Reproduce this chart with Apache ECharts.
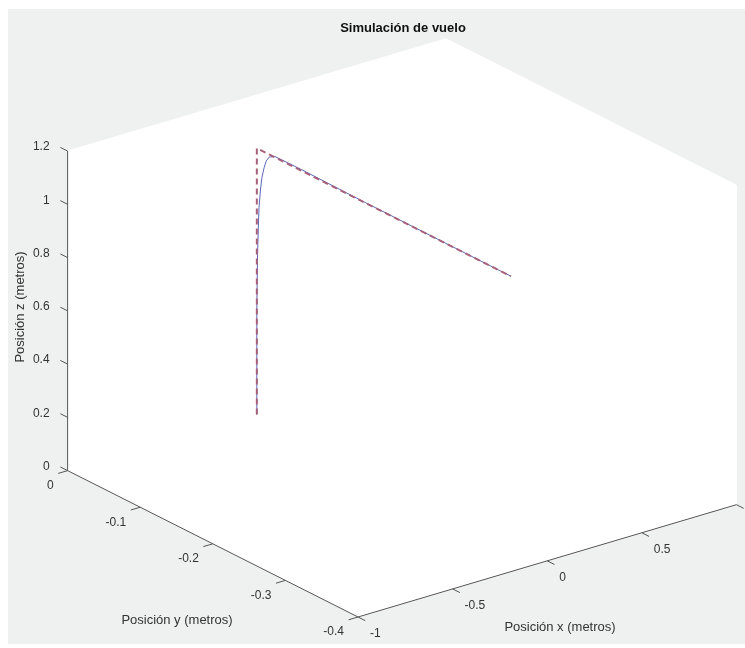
<!DOCTYPE html>
<html lang="es">
<head>
<meta charset="UTF-8">
<title>Simulación de vuelo</title>
<script src="https://cdn.jsdelivr.net/npm/echarts@6.0.0/dist/echarts.min.js"></script>
<style>html,body{margin:0;padding:0;background:#fff;}</style>
</head>
<body>
<div id="box" style="position:absolute;left:8px;top:9px;width:737px;height:635px;"></div>
<script>
// limites y marcas de los ejes
var xLim = [-1, 1], yLim = [-0.4, 0], zLim = [0, 1.2];
var xTicks = [-1, -0.5, 0, 0.5, 1];
var yTicks = [-0.4, -0.3, -0.2, -0.1, 0];
var zTicks = [0, 0.2, 0.4, 0.6, 0.8, 1, 1.2];

// trayectoria deseada (r--)
var refX = [0, 0, 0];
var refY = [0, 0, -0.35];
var refZ = [0, 1, 1];

// trayectoria simulada (b)
var simX = [0, 0, 0, 0, 0, 0, 0, 0, 0, 0, 0, 0, 0, 0, 0, 0];
var simY = [0, 0, 0, -0.0005, -0.001, -0.002, -0.003, -0.005, -0.007, -0.01, -0.013, -0.017, -0.025, -0.06, -0.15, -0.35];
var simZ = [0, 0.2, 0.4, 0.5, 0.6, 0.7, 0.78, 0.85, 0.9, 0.94, 0.97, 0.99, 1.003, 1.004, 1.001, 1.0];

// vista por defecto de matlab: az -37.5, el 30
var az = 37.5 * Math.PI / 180, el = 30 * Math.PI / 180;
function nrm(v, lim) { return (v - lim[0]) / (lim[1] - lim[0]); }
function proj(x, y, z) {
    var nx = nrm(x, xLim), ny = nrm(y, yLim), nz = nrm(z, zLim);
    return [nx * Math.cos(az) - ny * Math.sin(az),
            (nx * Math.sin(az) + ny * Math.cos(az)) * Math.sin(el) + nz * Math.cos(el)];
}
function path(xs, ys, zs) {
    return xs.map(function (x, i) { return proj(x, ys[i], zs[i]); });
}

var W = 737, H = 635, ox = 8, oy = 9;
var pxU = 477, pxV = 369, org = [358 - ox, 617 - oy];
var axisColor = '#555', textColor = '#333';
var tickFont = '12px "Liberation Sans", Arial, sans-serif';
var labFont = '13px "Liberation Sans", Arial, sans-serif';
var tl = 0.025;

function tickSeries(ticks, onAxis, outward, dx, dy, align) {
    return {
        type: 'custom', coordinateSystem: 'cartesian2d', silent: true, z: 6,
        data: ticks.map(function (t) { return [t, 0]; }),
        renderItem: function (params, api) {
            var t = api.value(0);
            var p0 = api.coord(proj.apply(null, onAxis(t)));
            var p1 = api.coord(proj.apply(null, outward(t)));
            return {
                type: 'group', children: [
                    {type: 'line', shape: {x1: p0[0], y1: p0[1], x2: p1[0], y2: p1[1]},
                     style: {stroke: axisColor, lineWidth: 1}},
                    {type: 'text', x: p0[0] + dx, y: p0[1] + dy,
                     style: {text: String(t), fill: textColor, font: tickFont, align: align, verticalAlign: 'middle'}}
                ]
            };
        }
    };
}

var faces = [
    [[xLim[0], yLim[0], zLim[0]], [xLim[1], yLim[0], zLim[0]], [xLim[1], yLim[1], zLim[0]], [xLim[0], yLim[1], zLim[0]]],
    [[xLim[1], yLim[0], zLim[0]], [xLim[1], yLim[1], zLim[0]], [xLim[1], yLim[1], zLim[1]], [xLim[1], yLim[0], zLim[1]]],
    [[xLim[0], yLim[1], zLim[0]], [xLim[1], yLim[1], zLim[0]], [xLim[1], yLim[1], zLim[1]], [xLim[0], yLim[1], zLim[1]]]
];

var myChart = echarts.init(document.getElementById('box'));
var option = {
    backgroundColor: '#eff1f1',
    animation: false,
    grid: {left: 0, right: 0, top: 0, bottom: 0},
    xAxis: {type: 'value', min: -org[0] / pxU, max: (W - org[0]) / pxU, show: false},
    yAxis: {type: 'value', min: -(H - org[1]) / pxV, max: org[1] / pxV, show: false},
    graphic: [
        {type: 'text', x: 403 - ox, y: 28 - oy, z: 100,
         style: {text: 'Simulación de vuelo', fill: '#111', font: 'bold 13px "Liberation Sans", Arial, sans-serif', align: 'center', verticalAlign: 'middle'}},
        {type: 'text', x: 177 - ox, y: 620 - oy, z: 100,
         style: {text: 'Posición y (metros)', fill: textColor, font: labFont, align: 'center', verticalAlign: 'middle'}},
        {type: 'text', x: 560 - ox, y: 627 - oy, z: 100,
         style: {text: 'Posición x (metros)', fill: textColor, font: labFont, align: 'center', verticalAlign: 'middle'}},
        {type: 'text', x: 20 - ox, y: 307 - oy, z: 100, rotation: Math.PI / 2,
         style: {text: 'Posición z (metros)', fill: textColor, font: labFont, align: 'center', verticalAlign: 'middle'}}
    ],
    series: [
        {
            type: 'custom', coordinateSystem: 'cartesian2d', silent: true, z: 1,
            data: faces.map(function (f, i) { return [i, 0]; }),
            renderItem: function (params, api) {
                var f = faces[api.value(0)];
                return {type: 'polygon', shape: {points: f.map(function (p) { return api.coord(proj(p[0], p[1], p[2])); })},
                        style: {fill: '#ffffff', stroke: '#ffffff', lineWidth: 1}};
            }
        },
        {
            type: 'line', silent: true, z: 5, showSymbol: false,
            data: path([xLim[0], xLim[0], xLim[0], xLim[1]], [yLim[1], yLim[1], yLim[0], yLim[0]], [zLim[1], zLim[0], zLim[0], zLim[0]]),
            lineStyle: {color: axisColor, width: 1}
        },
        tickSeries(zTicks,
            function (t) { return [xLim[0], yLim[1], t]; },
            function (t) { return [xLim[0], yLim[1] + tl * (yLim[1] - yLim[0]), t]; },
            -18, -4, 'right'),
        tickSeries(yTicks,
            function (t) { return [xLim[0], t, zLim[0]]; },
            function (t) { return [xLim[0] - tl * (xLim[1] - xLim[0]), t, zLim[0]]; },
            -14, 15, 'right'),
        tickSeries(xTicks,
            function (t) { return [t, yLim[0], zLim[0]]; },
            function (t) { return [t, yLim[0] - tl * (yLim[1] - yLim[0]), zLim[0]]; },
            12, 17, 'left'),
        {
            name: 'simulada', type: 'line', silent: true, z: 7, showSymbol: false,
            data: path(simX, simY, simZ),
            lineStyle: {color: '#5a66b8', width: 1}
        },
        {
            name: 'deseada', type: 'line', silent: true, z: 8, showSymbol: false,
            data: path(refX, refY, refZ),
            lineStyle: {color: '#a8607a', width: 2, type: [6, 4]}
        }
    ]
};
myChart.setOption(option);
</script>
</body>
</html>
